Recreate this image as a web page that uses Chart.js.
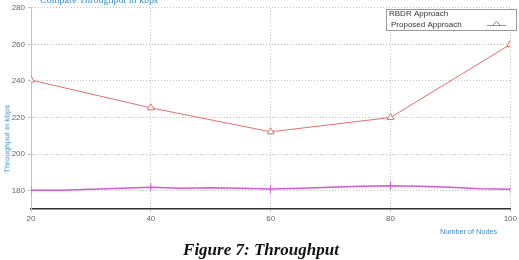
<!DOCTYPE html>
<html>
<head>
<meta charset="utf-8">
<script src="https://cdn.jsdelivr.net/npm/chart.js@4"></script>
<style>
  body { margin: 0; background: #fff; }
  #wrap { position: relative; width: 519px; height: 260px; overflow: hidden; }
  .lbl { position: absolute; white-space: nowrap; color: #3d8fc4; }
  #topTitle { left: 40px; top: -6px; font: 10px "Liberation Serif", serif; }
  #yTitle { left: 7px; top: 139px; font: 8px "Liberation Sans", Arial, sans-serif;
            transform: translate(-50%, -50%) rotate(-90deg); }
  #xTitle { left: 440px; top: 227px; font: 7.3px "Liberation Sans", Arial, sans-serif; }
  #caption { left: 0; width: 522px; top: 240px; text-align: center; color: #111;
             font: bold italic 17px "Liberation Serif", "Times New Roman", serif; }
</style>
</head>
<body>
<div id="wrap">
  <canvas id="chart" width="519" height="260"></canvas>
  <div class="lbl" id="topTitle">Compare Throughput in kbps</div>
  <div class="lbl" id="yTitle">Throughput in kbps</div>
  <div class="lbl" id="xTitle">Number of Nodes</div>
  <div class="lbl" id="caption">Figure 7: Throughput</div>
</div>
<script>
// Tick values
const xTickValues = [20, 40, 60, 80, 100];
const yTickValues = [180, 200, 220, 240, 260, 280];

// Proposed approach (red, triangles)
const proposedNodes = [20, 40, 60, 80, 100];
const proposedThroughput = [240.5, 225.3, 212.2, 220, 260];

// RBDR approach (magenta, dense trace)
const rbdrNodes = [20, 25, 30, 35, 40, 45, 50, 55, 60, 65, 70, 75, 80, 85, 90, 95, 100];
const rbdrThroughput = [180.2, 180.3, 180.8, 181.4, 181.9, 181.4, 181.6, 181.4, 180.9, 181.4, 181.9, 182.4, 182.7, 182.4, 181.9, 181.1, 180.8];

const markedNodes = [20, 40, 60, 80, 100];

// Legend box drawn the way the old plotting tool did it
const boxLegend = {
  id: 'boxLegend',
  afterDraw(chart) {
    const c = chart.ctx;
    const ds = chart.data.datasets;
    c.save();
    c.fillStyle = '#fff';
    c.fillRect(386, 9, 131, 21);
    c.strokeStyle = '#999';
    c.lineWidth = 1;
    c.strokeRect(386.5, 9.5, 130, 21);
    c.font = '8px "Liberation Sans", Arial, sans-serif';
    c.fillStyle = '#333';
    c.textBaseline = 'middle';
    c.fillText(ds[0].label, 389, 14);
    c.fillText(ds[1].label, 391, 25);
    // red sample line + triangle
    c.strokeStyle = ds[1].borderColor;
    c.beginPath();
    c.moveTo(487, 25.5); c.lineTo(506, 25.5);
    c.stroke();
    c.beginPath();
    c.moveTo(496.5, 21.5); c.lineTo(500.5, 25.5); c.lineTo(492.5, 25.5); c.closePath();
    c.stroke();
    c.restore();
  }
};

const ctx = document.getElementById('chart').getContext('2d');
new Chart(ctx, {
  type: 'line',
  data: {
    datasets: [{
      label: 'RBDR Approach',
      data: rbdrNodes.map((n, i) => ({ x: n, y: rbdrThroughput[i] })),
      borderColor: '#d25ad2',
      backgroundColor: '#d25ad2',
      borderWidth: 1.5,
      pointStyle: 'line',
      rotation: 90,
      pointRadius: c => markedNodes.includes(c.raw && c.raw.x) ? 4 : 0,
      pointBorderWidth: 1,
      tension: 0
    }, {
      label: 'Proposed Approach',
      data: proposedNodes.map((n, i) => ({ x: n, y: proposedThroughput[i] })),
      borderColor: '#e07070',
      backgroundColor: '#fff',
      borderWidth: 1,
      pointStyle: 'triangle',
      pointRadius: 4,
      pointBorderWidth: 1,
      tension: 0
    }]
  },
  options: {
    responsive: false,
    animation: false,
    layout: { padding: { top: 7, left: 0, right: 8, bottom: 31 } },
    plugins: { legend: { display: false }, tooltip: { enabled: false } },
    scales: {
      x: {
        type: 'linear',
        min: 20,
        max: 100,
        afterBuildTicks: s => { s.ticks = xTickValues.map(v => ({ value: v })); },
        afterFit: s => { s.height = 20; },
        grid: { color: '#c4c4c4', tickLength: 3 },
        border: { color: '#333', width: 1.5, dash: [1, 2] },
        ticks: { color: '#666', font: { size: 8, family: 'Liberation Sans' }, padding: 2, maxRotation: 0 }
      },
      y: {
        min: 170,
        max: 280,
        afterBuildTicks: s => { s.ticks = yTickValues.map(v => ({ value: v })); },
        afterFit: s => { s.width = 31; },
        grid: { color: '#c4c4c4', tickLength: 3 },
        border: { color: '#c4c4c4', dash: [1, 2] },
        ticks: { color: '#666', font: { size: 8, family: 'Liberation Sans' }, padding: 3 }
      }
    }
  },
  plugins: [boxLegend]
});
</script>
</body>
</html>
